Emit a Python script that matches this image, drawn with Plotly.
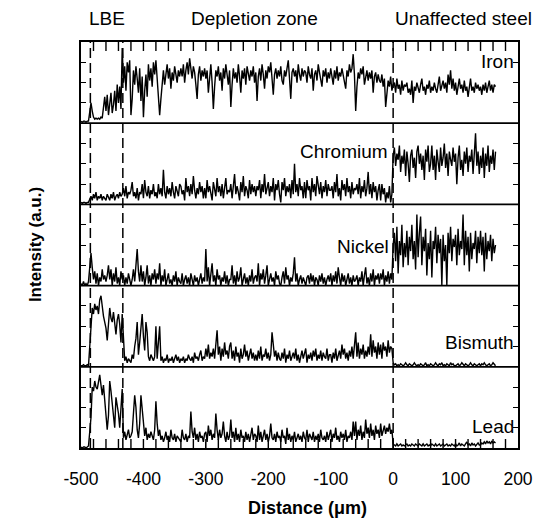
import plotly.graph_objects as go
from plotly.subplots import make_subplots

# Sampling grid of the line scan (micrometres)
X_START = -500
X_STEP = 2

iron = [
    0.1, 0.05, 0.1, 0.1, 0.05, 0.1, 0.1, 0.6, 1.0, 0.6, 0.3, 0.2, 0.25, 0.2, 0.25, 0.2, 0.3, 0.25, 0.9, 1.3,
    0.6, 1.4, 0.4, 1.1, 1.5, 0.5, 0.9, 1.6, 0.6, 1.9, 1.0, 1.8, 0.7, 3.7, 2.0, 2.8, 1.6, 3.0, 2.5, 3.1,
    0.4, 1.2, 2.6, 1.9, 2.8, 2.2, 1.5, 2.7, 1.1, 2.3, 0.3, 1.6, 2.4, 1.3, 2.9, 2.1, 2.7, 1.8, 3.0, 2.4,
    3.1, 2.2, 1.4, 0.4, 1.2, 2.1, 2.6, 1.9, 2.4, 2.9, 2.2, 2.7, 1.7, 2.5, 2.1, 2.8, 2.4, 2.0, 2.6, 2.3,
    2.7, 2.3, 2.9, 2.0, 2.6, 3.0, 2.4, 3.2, 2.7, 2.2, 2.8, 2.5, 1.9, 1.2, 2.4, 2.8, 2.1, 2.6, 2.3, 2.7,
    2.2, 2.6, 1.5, 2.4, 2.9, 2.0, 0.7, 1.8, 2.6, 2.3, 2.8, 2.1, 2.5, 1.6, 2.7, 2.2, 2.9, 2.4, 1.9, 2.6,
    0.8, 1.9, 2.7, 2.2, 2.5, 2.0, 2.9, 2.3, 1.5, 2.6, 2.2, 2.7, 1.9, 2.8, 2.4, 2.1, 2.6, 2.3, 2.8, 2.0,
    2.5, 1.1, 2.3, 2.7, 2.1, 2.9, 2.4, 1.7, 2.6, 2.2, 2.8, 2.5, 3.0, 2.1, 1.4, 2.4, 2.7, 2.2, 2.6, 2.3,
    2.8, 2.1, 1.9, 2.6, 2.3, 2.7, 3.1, 2.2, 1.2, 2.5, 2.7, 2.3, 2.6, 2.0, 2.9, 2.4, 2.1, 2.7, 2.3, 2.6,
    2.5, 2.0, 2.8, 2.4, 2.2, 2.7, 1.6, 2.4, 2.6, 2.1, 2.9, 2.5, 2.2, 1.8, 2.6, 2.3, 2.7, 2.0, 2.5, 2.2,
    2.7, 2.3, 1.9, 2.6, 2.2, 2.8, 2.1, 2.5, 2.3, 2.7, 2.4, 2.0, 1.7, 2.6, 2.3, 2.9, 2.5, 2.7, 3.4, 2.4,
    0.6, 1.8, 2.5, 2.2, 2.7, 2.4, 2.8, 1.9, 2.3, 2.6, 2.1, 2.5, 2.2, 2.6, 1.5, 2.3, 2.5, 2.0, 2.4, 2.1,
    2.0, 2.4, 1.8, 2.2, 0.8, 1.5, 2.1, 1.8, 2.3, 1.6, 1.9, 2.0, 1.5, 2.2, 1.7, 1.9, 1.4, 2.1, 1.6, 1.9,
    1.8, 2.0, 1.5, 1.7, 1.4, 2.1, 1.0, 1.8, 1.6, 2.0, 1.7, 1.5, 1.9, 2.2, 1.6, 1.8, 1.4, 1.9, 1.7, 2.1,
    1.5, 1.8, 1.6, 2.0, 1.7, 1.5, 1.9, 2.3, 1.6, 1.8, 2.1, 1.7, 2.0, 1.5, 2.4, 1.9, 2.6, 1.7, 2.2, 1.6,
    2.0, 1.4, 1.8, 2.2, 1.7, 1.9, 1.5, 2.1, 1.6, 1.8, 1.3, 1.9, 2.2, 1.6, 1.8, 1.5, 2.0, 1.7, 1.9, 1.6,
    1.8, 1.4, 1.9, 1.6, 2.0, 1.5, 1.8, 2.1, 1.6, 1.9, 1.5, 1.9, 1.8,
]

chromium = [
    0.1, 0.05, 0.1, 0.1, 0.05, 0.1, 0.1, 0.3, 0.4, 0.2, 0.5, 0.3, 0.6, 0.2, 0.4, 0.3, 0.5, 0.2, 0.4, 0.3,
    0.2, 0.5, 0.3, 0.2, 0.5, 0.3, 0.6, 0.2, 0.4, 0.5, 0.3, 0.6, 0.4, 0.5, 0.8, 0.4, 0.9, 0.3, 0.6, 0.5,
    0.7, 1.1, 0.4, 0.6, 0.3, 0.8, 0.2, 0.6, 0.5, 1.0, 0.3, 1.2, 0.6, 0.4, 0.9, 0.3, 0.7, 0.5, 1.0, 0.4,
    0.6, 0.3, 1.0, 0.5, 0.8, 0.4, 1.7, 0.6, 0.3, 0.9, 0.5, 0.8, 0.4, 1.1, 0.6, 0.3, 0.9, 0.7, 0.4, 1.0,
    0.9, 0.5, 0.7, 0.2, 1.3, 0.6, 0.9, 0.4, 1.0, 0.5, 1.4, 0.7, 0.3, 0.8, 0.5, 1.1, 0.6, 0.9, 0.3, 0.8,
    0.3, 1.2, 0.6, 0.9, 0.5, 0.2, 1.1, 0.7, 0.4, 1.3, 0.6, 0.9, 0.4, 1.0, 0.3, 0.8, 1.3, 0.5, 0.7, 0.6,
    1.0, 0.3, 0.8, 1.5, 0.5, 0.9, 0.6, 0.2, 1.1, 0.6, 1.4, 0.4, 0.9, 0.7, 0.3, 1.2, 0.5, 1.0, 0.6, 0.9,
    0.4, 0.9, 0.7, 1.2, 0.3, 1.0, 0.6, 1.5, 0.5, 0.8, 1.1, 0.4, 0.9, 0.6, 1.3, 0.2, 1.0, 0.7, 1.2, 0.5,
    0.1, 1.1, 0.7, 1.3, 0.4, 0.9, 0.6, 1.0, 0.3, 1.2, 0.5, 2.0, 0.6, 1.0, 0.4, 1.3, 0.7, 0.9, 0.3, 1.1,
    0.3, 1.2, 0.7, 0.9, 0.2, 1.3, 0.6, 1.0, 0.4, 1.4, 0.8, 0.5, 1.1, 0.3, 0.9, 0.6, 1.2, 0.4, 1.0, 0.7,
    0.7, 0.9, 0.3, 1.1, 0.6, 1.5, 0.4, 0.8, 0.2, 1.2, 0.7, 1.0, 0.4, 1.3, 0.6, 0.9, 0.3, 1.1, 0.5, 0.8,
    0.7, 1.0, 0.5, 1.3, 0.3, 0.9, 0.6, 1.2, 0.4, 0.8, 1.6, 0.5, 1.0, 0.3, 1.1, 0.6, 0.9, 0.2, 0.7, 1.0,
    0.2, 1.0, 0.5, 0.8, 0.1, 0.6, 0.3, 0.9, 0.1, 0.5, 2.4, 2.8, 1.9, 2.5, 2.2, 2.9, 1.6, 2.4, 2.0, 2.7,
    1.4, 2.6, 2.0, 1.1, 2.4, 2.7, 1.8, 2.3, 1.3, 2.6, 2.9, 2.0, 2.5, 1.7, 2.4, 1.2, 2.7, 2.1, 2.9, 1.6,
    2.0, 2.9, 1.7, 2.4, 1.2, 2.7, 2.1, 1.6, 2.8, 1.9, 2.3, 3.0, 1.8, 2.5, 1.4, 2.6, 2.2, 1.9, 2.8, 2.1,
    2.5, 1.0, 2.3, 2.9, 1.7, 2.2, 1.4, 2.6, 2.0, 2.8, 1.6, 2.4, 2.1, 2.7, 1.5, 2.3, 3.5, 1.9, 2.6, 1.5,
    2.4, 1.8, 2.8, 1.3, 2.5, 1.9, 2.9, 1.6, 2.4, 2.0, 2.7, 1.7, 2.6,
]

nickel = [
    0.1, 0.0, 0.2, 0.0, 0.1, 0.0, 0.2, 1.0, 1.6, 0.9, 0.3, 0.7, 0.1, 0.6, 0.0, 0.4, 0.2, 0.8, 0.3, 0.5,
    0.2, 0.5, 1.0, 0.3, 0.8, 0.0, 0.6, 0.2, 0.9, 0.1, 0.4, 0.0, 0.7, 0.3, 0.5, 0.0, 0.4, 0.1, 0.6, 0.3,
    0.0, 0.3, 0.8, 0.2, 1.0, 1.8, 0.7, 0.2, 1.0, 0.2, 0.7, 0.0, 0.4, 1.0, 0.1, 0.5, 0.0, 0.6, 0.3, 0.8,
    0.1, 0.6, 0.3, 1.1, 0.0, 0.5, 0.2, 0.8, 0.0, 0.4, 0.6, 0.1, 0.3, 0.0, 0.5, 0.2, 0.7, 0.0, 0.4, 0.2,
    0.1, 0.6, 0.0, 0.3, 0.5, 0.1, 0.4, 0.0, 0.6, 0.3, 0.0, 0.5, 0.2, 0.4, 0.0, 0.3, 0.6, 0.1, 0.4, 0.2,
    1.8, 0.2, 0.9, 0.0, 0.6, 1.1, 0.2, 0.5, 0.0, 0.8, 0.3, 0.5, 0.0, 0.4, 0.2, 0.7, 0.1, 0.5, 0.0, 0.3,
    0.3, 1.0, 0.1, 0.5, 0.0, 0.7, 0.2, 0.4, 0.9, 0.0, 0.3, 0.6, 0.1, 0.4, 0.0, 0.5, 0.2, 0.8, 0.1, 0.4,
    0.5, 0.2, 1.1, 0.0, 0.6, 0.3, 0.8, 0.1, 0.5, 1.0, 0.0, 0.3, 0.6, 0.2, 0.4, 0.0, 0.7, 0.3, 0.5, 0.1,
    0.0, 0.4, 0.7, 0.1, 0.9, 0.3, 0.5, 0.0, 0.4, 0.2, 0.6, 1.4, 0.2, 0.6, 0.0, 0.3, 0.5, 0.1, 0.4, 0.2,
    0.0, 0.4, 0.5, 0.1, 0.6, 0.2, 0.5, 0.0, 0.4, 0.3, 0.0, 0.5, 0.2, 0.6, 0.1, 0.4, 0.0, 0.3, 0.5, 0.2,
    0.6, 0.0, 0.5, 0.2, 0.7, 0.1, 0.9, 0.4, 0.0, 0.6, 0.2, 0.5, 0.0, 0.3, 0.6, 0.1, 0.4, 0.0, 0.5, 0.2,
    0.3, 0.5, 0.0, 0.4, 0.2, 0.7, 0.0, 0.5, 0.9, 0.1, 0.4, 0.0, 0.6, 0.2, 0.8, 0.0, 0.5, 0.3, 0.6, 0.1,
    0.6, 0.3, 0.8, 0.0, 0.5, 0.2, 0.7, 0.1, 0.6, 0.3, 2.0, 2.6, 1.2, 2.9, 0.6, 2.2, 1.5, 3.0, 0.9, 2.1,
    1.4, 2.7, 1.0, 2.4, 1.7, 3.0, 1.3, 2.2, 0.8, 3.5, 1.4, 2.6, 3.4, 1.0, 2.4, 1.7, 2.8, 0.5, 2.1, 1.3,
    2.7, 0.4, 2.2, 1.8, 2.9, 1.1, 2.5, 1.6, 2.3, 0.0, 2.5, 1.2, 2.0, 0.0, 2.6, 1.6, 2.9, 1.2, 2.3, 1.9,
    2.5, 1.0, 2.8, 1.5, 2.2, 1.8, 3.5, 1.0, 2.7, 1.5, 2.4, 0.7, 2.6, 1.3, 2.1, 1.8, 2.7, 1.1, 2.4, 1.6,
    2.7, 1.5, 2.4, 0.7, 2.6, 1.3, 2.2, 1.7, 2.5, 1.2, 2.3, 1.6, 2.0,
]

bismuth = [
    0.05, 0.05, 0.1, 0.05, 0.05, 0.1, 0.05, 1.0, 1.8, 2.9, 2.6, 3.1, 2.8, 3.0, 2.6, 3.3, 3.5, 2.9, 2.5, 2.2,
    1.9, 1.3, 2.1, 2.9, 2.4, 2.2, 2.7, 2.0, 1.6, 2.3, 2.6, 2.1, 1.2, 2.6, 1.0, 0.3, 0.5, 0.2, 0.4, 0.3,
    0.2, 0.6, 0.4, 1.0, 1.4, 2.2, 0.6, 1.2, 2.0, 2.6, 1.5, 0.8, 2.2, 1.7, 0.5, 0.3, 0.6, 0.4, 0.3, 0.5,
    2.0, 0.4, 1.2, 2.0, 0.3, 0.5, 0.2, 0.4, 0.3, 0.6, 0.2, 0.4, 0.3, 0.5, 0.2, 0.4, 0.6, 0.3, 0.5, 0.2,
    0.4, 0.3, 0.5, 0.2, 0.4, 0.3, 0.6, 0.4, 0.3, 0.5, 0.2, 0.7, 0.4, 0.5, 0.3, 0.6, 0.8, 0.3, 0.5, 0.4,
    0.9, 0.5, 1.1, 0.4, 0.7, 0.5, 0.9, 0.4, 1.0, 1.8, 0.6, 1.0, 0.3, 0.9, 0.5, 1.2, 0.6, 0.8, 0.4, 1.0,
    1.2, 0.4, 0.8, 0.3, 1.0, 0.5, 0.7, 0.2, 0.9, 0.4, 0.6, 1.1, 0.5, 0.8, 0.3, 0.6, 0.9, 0.4, 0.7, 0.3,
    0.6, 0.3, 0.8, 0.4, 1.0, 0.3, 0.6, 0.5, 0.9, 0.4, 0.7, 0.3, 0.6, 1.7, 0.9, 0.5, 0.8, 0.3, 0.7, 0.4,
    0.3, 0.7, 0.4, 0.9, 0.2, 0.6, 0.4, 0.8, 0.3, 0.5, 0.7, 0.4, 0.9, 0.3, 0.6, 0.2, 0.5, 0.8, 0.4, 0.6,
    0.9, 0.2, 0.6, 0.4, 0.7, 0.3, 0.8, 0.5, 0.9, 0.3, 0.6, 0.4, 0.8, 0.3, 0.7, 0.5, 0.4, 0.9, 0.3, 0.6,
    0.6, 0.2, 0.7, 0.4, 0.9, 0.3, 0.5, 0.8, 0.4, 1.1, 0.6, 0.9, 0.4, 0.7, 0.3, 0.8, 0.5, 1.0, 0.4, 1.1,
    1.7, 0.5, 1.2, 0.4, 0.9, 0.6, 1.1, 0.4, 0.8, 0.5, 1.0, 0.6, 1.6, 0.5, 1.3, 0.7, 1.0, 0.4, 1.2, 0.6,
    1.1, 0.4, 1.2, 0.8, 1.0, 0.5, 1.3, 0.7, 1.0, 0.9, 0.2, 0.1, 0.15, 0.05, 0.1, 0.05, 0.15, 0.1, 0.05, 0.1,
    0.2, 0.1, 0.05, 0.15, 0.1, 0.05, 0.1, 0.2, 0.1, 0.05, 0.1, 0.05, 0.15, 0.1, 0.05, 0.1, 0.2, 0.05, 0.1, 0.05,
    0.15, 0.1, 0.05, 0.1, 0.2, 0.1, 0.05, 0.15, 0.1, 0.2, 0.05, 0.1, 0.05, 0.15, 0.1, 0.05, 0.2, 0.1, 0.15, 0.05,
    0.05, 0.1, 0.15, 0.05, 0.1, 0.2, 0.1, 0.05, 0.15, 0.1, 0.05, 0.1, 0.2, 0.1, 0.05, 0.15, 0.1, 0.05, 0.1, 0.15,
    0.05, 0.15, 0.1, 0.2, 0.1, 0.05, 0.1, 0.15, 0.05, 0.1, 0.2, 0.1, 0.05,
]

lead = [
    0.05, 0.0, 0.05, 0.05, 0.0, 0.05, 0.1, 0.8, 1.5, 3.0, 2.8, 3.3, 3.0, 2.9, 3.4, 3.6, 3.1, 2.6, 3.1, 2.4,
    2.0, 0.9, 1.6, 3.3, 2.8, 2.2, 1.4, 1.0, 2.5, 2.1, 1.7, 1.0, 1.8, 2.9, 0.5, 0.8, 0.4, 0.6, 0.9, 0.5,
    0.6, 0.8, 1.6, 2.6, 2.0, 0.9, 0.5, 1.2, 2.6, 1.8, 1.2, 0.6, 1.0, 0.4, 0.7, 0.5, 0.8, 0.6, 0.4, 0.9,
    2.3, 1.2, 0.6, 0.9, 0.4, 0.6, 0.3, 0.5, 0.8, 0.4, 0.6, 0.3, 0.9, 0.5, 0.4, 0.7, 0.3, 0.6, 0.5, 0.4,
    0.3, 0.9, 0.5, 0.4, 0.7, 0.3, 0.6, 0.5, 1.8, 0.8, 0.5, 1.0, 0.4, 0.7, 0.3, 0.8, 0.5, 0.6, 0.3, 0.7,
    0.8, 0.3, 1.1, 0.6, 0.9, 0.4, 0.7, 0.5, 1.7, 0.9, 0.4, 0.9, 0.5, 0.7, 1.3, 0.6, 0.3, 0.8, 0.4, 0.6,
    1.4, 0.5, 0.8, 0.3, 1.0, 0.4, 0.7, 0.3, 0.9, 0.5, 0.6, 0.3, 0.8, 0.4, 0.7, 0.3, 0.6, 1.0, 0.4, 0.7,
    0.6, 0.3, 1.1, 0.4, 0.8, 0.3, 0.6, 0.9, 0.4, 0.7, 0.3, 0.6, 1.2, 0.5, 0.4, 0.7, 0.3, 0.8, 0.5, 0.6,
    0.3, 0.9, 0.5, 0.6, 0.2, 1.0, 0.4, 0.7, 0.3, 0.6, 0.4, 0.8, 0.3, 0.5, 0.7, 0.4, 0.6, 0.3, 0.8, 0.5,
    0.4, 0.9, 0.3, 0.7, 0.5, 0.4, 0.8, 0.3, 0.6, 0.4, 0.7, 0.3, 0.9, 0.5, 0.4, 0.6, 0.3, 0.8, 0.4, 0.6,
    0.9, 0.3, 0.7, 0.5, 1.0, 0.4, 0.6, 0.3, 0.8, 0.5, 0.7, 0.4, 0.9, 0.3, 0.6, 0.5, 0.8, 0.4, 1.3, 0.6,
    1.3, 0.4, 0.9, 0.6, 1.1, 0.4, 0.8, 0.5, 1.4, 0.7, 1.0, 0.5, 1.2, 0.6, 0.9, 0.4, 1.1, 0.7, 0.9, 0.5,
    1.2, 0.6, 0.9, 1.1, 0.7, 1.0, 0.8, 1.2, 0.7, 0.9, 0.2, 0.15, 0.1, 0.2, 0.1, 0.15, 0.2, 0.1, 0.15, 0.1,
    0.15, 0.2, 0.1, 0.15, 0.1, 0.2, 0.15, 0.1, 0.2, 0.15, 0.1, 0.2, 0.15, 0.1, 0.2, 0.1, 0.15, 0.2, 0.1, 0.15,
    0.1, 0.2, 0.15, 0.1, 0.2, 0.1, 0.15, 0.2, 0.1, 0.15, 0.2, 0.1, 0.15, 0.2, 0.1, 0.15, 0.1, 0.2, 0.15, 0.1,
    0.2, 0.1, 0.15, 0.25, 0.1, 0.2, 0.15, 0.1, 0.2, 0.3, 0.15, 0.2, 0.1, 0.25, 0.15, 0.2, 0.1, 0.2, 0.25, 0.15,
    0.15, 0.25, 0.2, 0.3, 0.2, 0.35, 0.25, 0.3, 0.2, 0.35, 0.25, 0.3, 0.25,
]

series = [iron, chromium, nickel, bismuth, lead]
element_names = ["Iron", "Chromium", "Nickel", "Bismuth", "Lead"]
label_x = [196, -5, -4, 197, 197]
label_y = [3.05, 2.6, 1.95, 1.18, 1.08]

zone_names = ["LBE", "Depletion zone", "Unaffected steel"]
zone_x = [-458, -222, 112]
boundaries = [-485, -433, 0]

X_MIN, X_MAX = -500, 200
Y_MIN, Y_MAX = 0, 4
MINOR_STEP = 20
x_tick_vals = [-500, -400, -300, -200, -100, 0, 100, 200]
x_tick_text = ["-500", "-400", "-300", "-200", "-100", "0", "100", "200"]

FONT = "Liberation Sans, Arial, sans-serif"
N_ROWS = len(series)

fig = make_subplots(rows=N_ROWS, cols=1, shared_xaxes=True, vertical_spacing=0)

for r, ys in enumerate(series, start=1):
    xs = [X_START + X_STEP * k for k in range(len(ys))]
    fig.add_trace(
        go.Scatter(x=xs, y=ys, mode="lines",
                   line=dict(color="black", width=1.4),
                   showlegend=False, hoverinfo="skip"),
        row=r, col=1,
    )
    fig.update_yaxes(
        range=[Y_MIN, Y_MAX], tickvals=[1, 2, 3], ticks="inside", ticklen=5,
        tickwidth=1.3, tickcolor="black", showticklabels=False,
        showline=True, linecolor="black", linewidth=1.5, mirror="ticks",
        showgrid=False, zeroline=False, row=r, col=1,
    )
    common_x = dict(range=[X_MIN, X_MAX], showgrid=False, zeroline=False,
                    linecolor="black", linewidth=1.6)
    if r == 1:
        fig.update_xaxes(**common_x, showline=True, side="top",
                         ticks="", showticklabels=False, row=r, col=1)
    elif r == N_ROWS:
        fig.update_xaxes(**common_x, showline=True, side="bottom",
                         tickmode="array", tickvals=x_tick_vals,
                         ticktext=x_tick_text, ticks="inside", ticklen=6,
                         tickwidth=1.3, tickcolor="black",
                         showticklabels=True, ticklabelstandoff=14,
                         tickfont=dict(family=FONT, size=17.5, color="black"),
                         row=r, col=1)
    else:
        fig.update_xaxes(**common_x, showline=False, ticks="",
                         showticklabels=False, row=r, col=1)

# inward 20 µm tick marks along the top and bottom edges of the stack,
# drawn as clipped line markers sitting on the axis edges
minor_x = list(range(X_MIN + MINOR_STEP, X_MAX, MINOR_STEP))
for r, edge in ((1, Y_MAX), (N_ROWS, Y_MIN)):
    fig.add_trace(
        go.Scatter(x=minor_x, y=[edge] * len(minor_x), mode="markers",
                   marker=dict(symbol="line-ns", size=13,
                               line=dict(color="black", width=1.4)),
                   cliponaxis=True, showlegend=False, hoverinfo="skip"),
        row=r, col=1,
    )

# horizontal lines between panels
for k in range(1, N_ROWS):
    fig.add_shape(type="line", xref="paper", yref="paper", x0=0, x1=1,
                  y0=k / N_ROWS, y1=k / N_ROWS,
                  line=dict(color="black", width=1.7))

for bx in boundaries:
    fig.add_shape(type="line", xref="x", yref="paper", x0=bx, x1=bx,
                  y0=0, y1=1, line=dict(color="black", width=1.5, dash="10px,5px"))

for name, zx in zip(zone_names, zone_x):
    fig.add_annotation(text=name, xref="x", yref="paper", x=zx, y=1.0567,
                       xanchor="center", yanchor="middle", showarrow=False,
                       font=dict(family=FONT, size=19, color="black"))

for r, (name, lx, ly) in enumerate(zip(element_names, label_x, label_y), start=1):
    fig.add_annotation(text=name, xref="x", yref=f"y{r}" if r > 1 else "y",
                       x=lx, y=ly, xanchor="right", yanchor="middle",
                       showarrow=False,
                       font=dict(family=FONT, size=19, color="black"))

fig.add_annotation(text="<b>Intensity (a.u.)</b>", xref="paper", yref="paper",
                   x=-0.105, y=0.5, textangle=-90, xanchor="center",
                   yanchor="middle", showarrow=False,
                   font=dict(family=FONT, size=17, color="black"))
fig.add_annotation(text="<b>Distance (μm)</b>", xref="paper", yref="paper",
                   x=0.518, y=0, yshift=-60, xanchor="center", yanchor="middle",
                   showarrow=False, font=dict(family=FONT, size=18, color="black"))

# the page body adds an 8 px offset, so the figure is sized to sit at the reference position
fig.update_layout(width=537, height=512,
                  margin=dict(l=73, r=23, t=34, b=72),
                  paper_bgcolor="white", plot_bgcolor="white")

fig.write_html("out.html")
